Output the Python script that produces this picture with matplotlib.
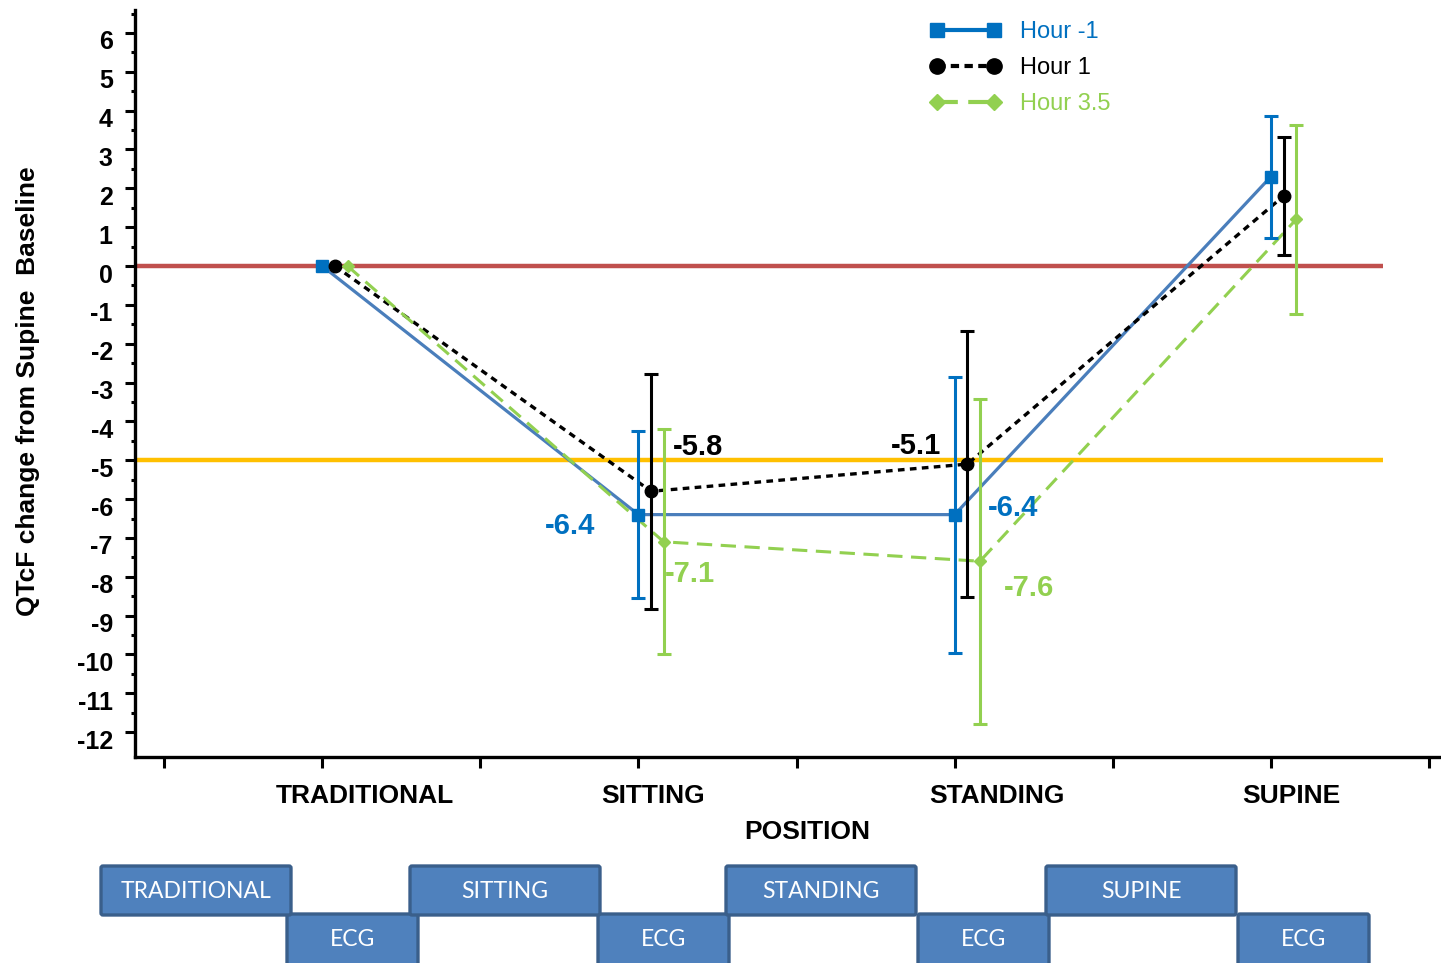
import numpy as np
import matplotlib
matplotlib.use('Agg')
import matplotlib.pyplot as plt
from matplotlib.lines import Line2D
from matplotlib.patches import FancyBboxPatch
from matplotlib.transforms import ScaledTranslation

plt.rcParams['font.family'] = ['Liberation Sans', 'DejaVu Sans']

# --- data ---
positions = ['TRADITIONAL', 'SITTING', 'STANDING', 'SUPINE']
pos_x = np.array([1, 3, 5, 7])
series_names = ['Hour -1', 'Hour 1', 'Hour 3.5']
hour_m1 = [0.0, -6.4, -6.4, 2.3]
hour_1 = [0.0, -5.8, -5.1, 1.8]
hour_35 = [0.0, -7.1, -7.6, 1.2]
err_m1 = [0.0, 2.15, 3.55, 1.57]
err_1 = [0.0, 3.03, 3.43, 1.52]
err_35 = [0.0, 2.9, 4.18, 2.43]
ref_zero = 0
ref_threshold = -5
steps = ['TRADITIONAL', 'SITTING', 'STANDING', 'SUPINE']
step_sub = 'ECG'

BLUE_LINE = '#4A7EBB'
BLUE = '#0070C0'
GREEN = '#92D050'
RED = '#C0504D'
ORANGE = '#FFC000'

fig = plt.figure(figsize=(14.41, 9.63), dpi=100)
ax = fig.add_axes([0.0937, 0.2139, 0.9063, 0.7757])

xmin, xmax = -0.184, 8.076
ax.set_xlim(xmin, xmax)
ax.set_ylim(-12.64, 6.59)

# reference lines
ax.plot([xmin, 7.71], [ref_zero, ref_zero], color=RED, lw=3.2, zorder=1, solid_capstyle='butt')
ax.plot([xmin, 7.71], [ref_threshold, ref_threshold], color=ORANGE, lw=3.2, zorder=1, solid_capstyle='butt')

styles = [
    dict(y=hour_m1, e=err_m1, dx=0.0, lc=BLUE_LINE, mc=BLUE, ls='-', marker='s', ms=8, lw=2.3),
    dict(y=hour_1, e=err_1, dx=0.08, lc='black', mc='black', ls=(0, (2.0, 1.6)), marker='o', ms=9, lw=2.4),
    dict(y=hour_35, e=err_35, dx=0.16, lc=GREEN, mc=GREEN, ls=(0, (5, 2.8)), marker='D', ms=6, lw=2.2),
]

for s in styles:
    xs = pos_x + s['dx']
    ax.plot(xs, s['y'], color=s['lc'], ls=s['ls'], lw=s['lw'], zorder=3)
    ax.errorbar(xs[1:], s['y'][1:], yerr=s['e'][1:], fmt='none', ecolor=s['mc'],
                elinewidth=2.2, capsize=5, capthick=2.2, zorder=4)
    ax.plot(xs, s['y'], ls='none', marker=s['marker'], ms=s['ms'], color=s['mc'], zorder=5)

# value labels (offsets in points)
lab = [
    (0, 1, (-49, -8), BLUE), (0, 2, (42, 5), BLUE),
    (1, 1, (34, 32), 'black'), (1, 2, (-37, 13), 'black'),
    (2, 1, (19, -23), GREEN), (2, 2, (35, -19), GREEN),
]
for si, pi, off, col in lab:
    s = styles[si]
    ax.annotate('{:.1f}'.format(s['y'][pi]), (pos_x[pi] + s['dx'], s['y'][pi]),
                xytext=off, textcoords='offset points', ha='center', va='center',
                fontsize=21, fontweight='bold', color=col, zorder=6)

# axes styling
for side in ['top', 'right']:
    ax.spines[side].set_visible(False)
for side in ['left', 'bottom']:
    ax.spines[side].set_linewidth(2.4)
ax.set_yticks(np.arange(-12, 7, 1))
ax.set_yticks(np.arange(-12, 6.6, 0.5), minor=True)
ax.set_yticklabels([str(v) for v in range(-12, 7)], fontsize=18, fontweight='bold')
ax.tick_params(axis='y', which='major', direction='out', length=7, width=2.2, pad=9)
ax.tick_params(axis='y', which='minor', direction='out', length=3, width=2.2)
# labels sit a little below their ticks in the original
shift = ScaledTranslation(0, -7 / 100, fig.dpi_scale_trans)
for t in ax.get_yticklabels():
    t.set_transform(t.get_transform() + shift)
ax.set_xticks(np.arange(0, 9, 1))
ax.set_xticklabels([])
ax.tick_params(axis='x', which='major', direction='out', length=8, width=2.2)

ax.set_ylabel('QTcF change from Supine  Baseline', fontsize=19, fontweight='bold')
ax.yaxis.set_label_coords(-0.073, 0.49)

cat_label_x = [1.27, 3.09, 5.27, 7.13]
for name, lx in zip(positions, cat_label_x):
    ax.text(lx, -13.65, name, ha='center', va='center', fontsize=19, fontweight='bold')
ax.text(4.07, -14.58, 'POSITION', ha='center', va='center', fontsize=19, fontweight='bold')

# legend
handles = []
for s in styles:
    if s['lc'] == 'black':
        ls = (0, (2.0, 1.3))
    elif s['ls'] == '-':
        ls = '-'
    else:
        ls = (0, (5, 2.5))
    lc = BLUE if s['lc'] == BLUE_LINE else s['lc']
    handles.append(Line2D([], [], color=lc, ls=ls, lw=3, marker=s['marker'], ms=s['ms'] + 2,
                          markerfacecolor=s['mc'], markeredgecolor=s['mc']))
fig.legend(handles, series_names, loc='upper left', bbox_to_anchor=(930 / 1441, 1 - 21 / 963),
           frameon=False, fontsize=17, numpoints=2, handlelength=3.0, handletextpad=0.8,
           labelspacing=0.6, borderpad=0, borderaxespad=0,
           labelcolor=[BLUE, 'black', GREEN])

# process boxes along the bottom (pixel coords)
bx = fig.add_axes([0, 0, 1, 1], zorder=-1)
bx.set_xlim(0, 1441)
bx.set_ylim(963, 0)
bx.axis('off')
top_x = [101, 410, 726, 1046]
sub_x = [287, 598, 918, 1238]
box_w, sub_w = 190, 131


def draw_box(x0, y0, w, h, label):
    p = FancyBboxPatch((x0, y0), w, h, boxstyle='round,pad=0,rounding_size=2',
                       facecolor='#4F81BD', edgecolor='#3A5F8B', lw=2.4)
    bx.add_patch(p)
    bx.text(x0 + w / 2, y0 + 26, label, ha='center', va='center', color='white',
            fontsize=16.5, family=['Lato', 'DejaVu Sans'])


for xs_, xe_, name in zip(top_x, sub_x, steps):
    draw_box(xe_, 914, sub_w, 60, step_sub)
    draw_box(xs_, 866, box_w, 49, name)

fig.savefig('out.png', dpi=100)
